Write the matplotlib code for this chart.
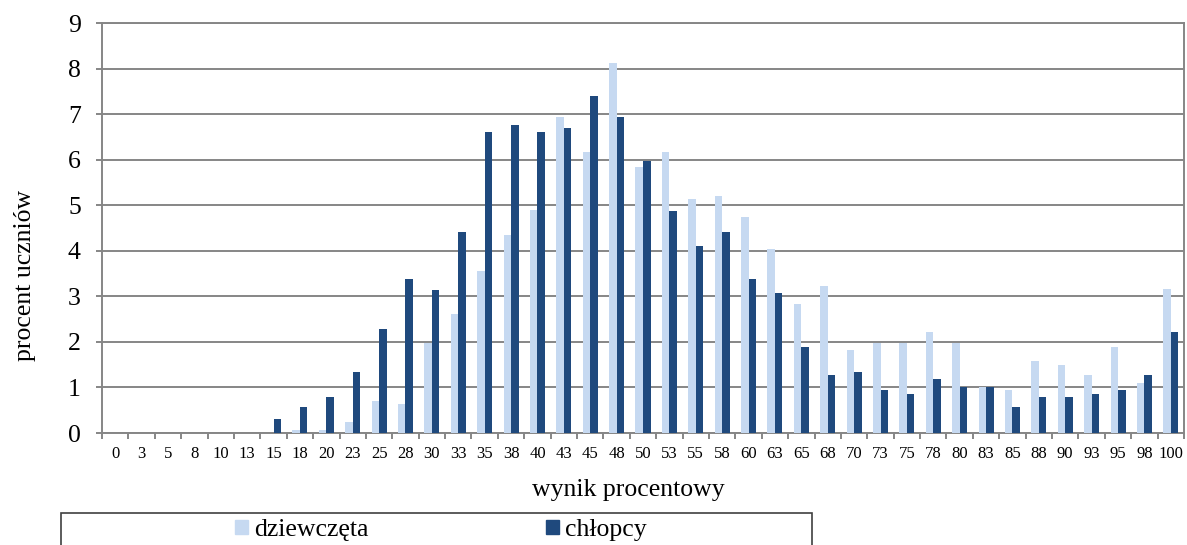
import numpy as np
import matplotlib
matplotlib.use("Agg")
import matplotlib.pyplot as plt
from matplotlib.patches import Patch, Rectangle

plt.rcParams['font.family'] = ['Liberation Serif', 'DejaVu Serif']

categories = ['0', '3', '5', '8', '10', '13', '15', '18', '20', '23', '25', '28', '30', '33',
              '35', '38', '40', '43', '45', '48', '50', '53', '55', '58', '60', '63', '65',
              '68', '70', '73', '75', '78', '80', '83', '85', '88', '90', '93', '95', '98', '100']
girls = [0, 0, 0, 0, 0, 0, 0, 0.07, 0.07, 0.24, 0.71, 0.63, 1.98, 2.61,
         3.55, 4.34, 4.89, 6.94, 6.16, 8.13, 5.84, 6.16, 5.13, 5.21, 4.74, 4.04, 2.84,
         3.23, 1.82, 1.98, 1.98, 2.22, 1.98, 1.02, 0.95, 1.59, 1.50, 1.27, 1.89, 1.10, 3.16]
boys = [0, 0, 0, 0, 0, 0, 0.31, 0.56, 0.79, 1.35, 2.28, 3.39, 3.15, 4.41,
        6.61, 6.77, 6.61, 6.70, 7.40, 6.93, 5.98, 4.88, 4.10, 4.41, 3.39, 3.07, 1.89,
        1.27, 1.35, 0.95, 0.86, 1.19, 1.02, 1.02, 0.56, 0.79, 0.79, 0.86, 0.95, 1.27, 2.21]

light = '#C6D9F1'
dark = '#1F497D'
grey = '#868686'

fig = plt.figure(figsize=(11.87, 5.45), dpi=100)
ax = fig.add_axes([102 / 1187, 1 - 433 / 545, 1082 / 1187, 410 / 545])

x = np.arange(len(categories))
w = 0.285
ax.bar(x - w / 2, girls, w, color=light, zorder=3)
ax.bar(x + w / 2, boys, w, color=dark, zorder=3)

ax.set_xlim(-0.5, len(categories) - 0.5)
ax.set_ylim(0, 9)
ax.set_yticks(range(10))
ax.yaxis.grid(True, color=grey, lw=1.4, zorder=1)
for s in ax.spines.values():
    s.set_color(grey)
    s.set_linewidth(1.4)

ax.set_xticks(x)
ax.set_xticklabels(categories, fontsize=12)
ax.set_xticks(np.arange(-0.5, len(categories)), minor=True)
ax.tick_params(axis='x', which='major', length=0, pad=9.5)
ax.tick_params(axis='x', which='minor', length=4, width=1.4, color=grey)
ax.tick_params(axis='y', length=4.3, width=1.4, color=grey, labelsize=18.5, pad=11)

ax.set_xlabel('wynik procentowy', fontsize=18.5)
ax.xaxis.set_label_coords(0.486, -0.112)
ax.set_ylabel('procent uczniów', fontsize=18.5)
ax.yaxis.set_label_coords(-0.061, 0.385)

# legend frame, cut off by the bottom edge like in the original
fig.patches.append(Rectangle((61 / 1187, -0.05), (812 - 61) / 1187, 0.05 + 32 / 545,
                             transform=fig.transFigure, fill=False, edgecolor='#404040', lw=1.2))
handles = [Patch(color=light, label='dziewczęta'), Patch(color=dark, label='chłopcy')]
fig.legend(handles=handles, loc='center left', bbox_to_anchor=(235 / 1187, 1 - 530 / 545),
           ncol=2, frameon=False, fontsize=18.5, borderpad=0, borderaxespad=0,
           handlelength=0.5, handleheight=0.5, handletextpad=0.25, columnspacing=6.9)

fig.savefig('out.png', dpi=100)
